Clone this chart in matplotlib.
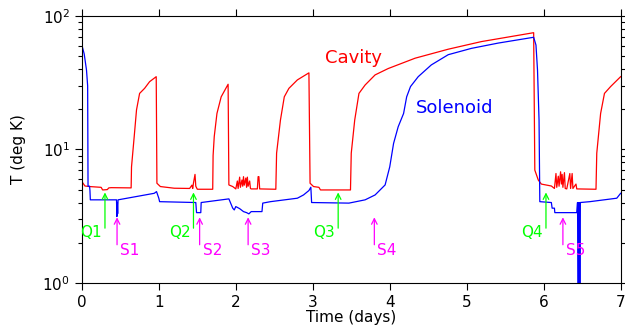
import matplotlib
matplotlib.use("Agg")
import matplotlib.pyplot as plt

# Cavity temperature (deg K) vs time (days)
cav_t = [0.00, 0.04, 0.10, 0.25, 0.27, 0.33, 0.35, 0.38, 0.64, 0.645, 0.68, 0.71, 0.75, 0.815, 0.88, 0.966,
         0.975, 1.02, 1.20, 1.40, 1.43, 1.44, 1.45, 1.47, 1.48, 1.50, 1.70, 1.705, 1.72, 1.755, 1.81, 1.90,
         1.91, 1.96, 2.00, 2.02, 2.03, 2.05, 2.06, 2.08, 2.09, 2.10, 2.11, 2.13, 2.14, 2.15, 2.16, 2.18, 2.19,
         2.20, 2.28, 2.29, 2.30, 2.31, 2.52, 2.53, 2.58, 2.63, 2.69, 2.80, 2.95, 2.965, 3.01, 3.08, 3.10,
         3.49, 3.50, 3.545, 3.60, 3.68, 3.81, 3.98, 4.33, 4.76, 5.19, 5.87, 5.885, 5.93, 5.97, 6.10, 6.14,
         6.16, 6.17, 6.19, 6.20, 6.22, 6.23, 6.24, 6.25, 6.27, 6.28, 6.30, 6.34, 6.35, 6.37, 6.38, 6.42,
         6.43, 6.68, 6.69, 6.74, 6.79, 6.87, 7.00]
cav_T = [5.74, 5.32, 5.27, 5.20, 4.97, 5.00, 5.15, 5.17, 5.15, 7.4, 12.5, 19.8, 26.3, 28.7, 32.2, 35.1,
         5.58, 5.27, 5.12, 5.10, 5.4, 5.1, 5.6, 6.5, 5.3, 5.03, 5.03, 9.0, 12.5, 18.6, 24.8, 30.8,
         5.42, 5.27, 5.06, 5.8, 5.1, 6.2, 5.2, 5.9, 5.3, 6.25, 5.4, 6.1, 5.2, 6.2, 5.3, 5.8, 5.1,
         5.06, 5.06, 6.25, 6.25, 5.06, 5.03, 9.37, 16.6, 24.8, 28.7, 33.2, 37.5, 5.58, 5.27, 5.20, 4.97,
         4.97, 9.37, 16.6, 26.3, 30.4, 36.2, 40.4, 48.3, 56.4, 64.3, 75.0, 7.0, 5.9, 5.5, 5.32, 5.1,
         6.6, 5.2, 6.3, 5.3, 6.8, 5.5, 6.5, 5.2, 6.7, 5.1, 5.06, 6.6, 5.1, 6.6, 5.1, 5.5,
         5.06, 5.03, 9.37, 18.6, 26.3, 29.6, 35.1]

# Solenoid temperature (deg K) vs time (days)
sol_t = [0.00, 0.03, 0.06, 0.075, 0.08, 0.10, 0.105, 0.11, 0.45, 0.455, 0.46, 0.465, 0.47, 0.94, 0.97,
         1.00, 1.01, 1.48, 1.49, 1.545, 1.55, 1.91, 1.96, 1.98, 2.00, 2.05, 2.10, 2.14, 2.17, 2.20, 2.34,
         2.35, 2.45, 2.80, 2.88, 2.95, 2.975, 2.985, 3.47, 3.68, 3.81, 3.94, 4.00, 4.05, 4.11, 4.18, 4.22,
         4.27, 4.37, 4.54, 4.76, 5.06, 5.41, 5.87, 5.90, 5.92, 5.94, 5.95, 6.10, 6.11, 6.14, 6.145, 6.43,
         6.44, 6.45, 6.455, 6.46, 6.465, 6.47, 6.475, 6.60, 6.95, 7.00]
sol_T = [60.6, 52.0, 39.4, 30.0, 5.3, 5.3, 4.9, 4.19, 4.19, 3.14, 4.0, 3.3, 4.19, 4.69, 4.83,
         4.3, 4.06, 4.0, 3.36, 3.36, 4.0, 4.26, 3.63, 3.52, 3.73, 3.6, 3.42, 3.36, 3.29, 3.42, 3.42,
         3.96, 4.06, 4.31, 4.56, 4.92, 5.21, 4.0, 3.96, 4.19, 4.56, 5.42, 7.4, 11.1, 14.8, 18.6, 24.8,
         29.6, 35.1, 43.0, 51.3, 57.2, 62.7, 69.3, 60.6, 39.4, 16.6, 4.06, 4.0, 3.63, 3.63, 3.36, 3.36,
         4.0, 0.5, 4.0, 0.5, 4.0, 0.5, 4.0, 4.06, 4.31, 4.69]

# event markers
q_names = ["Q1", "Q2", "Q3", "Q4"]
q_times = [0.30, 1.45, 3.33, 6.03]
s_names = ["S1", "S2", "S3", "S4", "S5"]
s_times = [0.457, 1.53, 2.16, 3.80, 6.25]

plt.rcParams['font.family'] = 'DejaVu Sans'
fig = plt.figure(figsize=(6.25, 3.27), dpi=100)
ax = fig.add_axes([0.131, 0.135, 0.862, 0.816])

ax.plot(cav_t, cav_T, color='#ff0000', lw=0.9)
ax.plot(sol_t, sol_T, color='#0000ff', lw=0.9)

for name, t in zip(q_names, q_times):
    ax.annotate("", xy=(t, 4.76), xytext=(t, 2.57),
                arrowprops=dict(arrowstyle='->', color='#00ff00', lw=0.9, shrinkA=0, shrinkB=0))
    ax.text(t - 0.04, 2.37, name, color='#00ff00', fontsize=11, ha='right', va='center')
for name, t in zip(s_names, s_times):
    ax.annotate("", xy=(t, 3.10), xytext=(t, 1.93),
                arrowprops=dict(arrowstyle='->', color='#ff00ff', lw=0.9, shrinkA=0, shrinkB=0))
    ax.text(t + 0.04, 1.74, name, color='#ff00ff', fontsize=11, ha='left', va='center')

ax.text(3.53, 48.4, "Cavity", color='#ff0000', fontsize=13, ha='center', va='center')
ax.text(4.84, 20.6, "Solenoid", color='#0000ff', fontsize=13, ha='center', va='center')

ax.set_yscale('log')
ax.set_xlim(0, 7)
ax.set_ylim(1, 100)
ax.set_xticks(range(8))
ax.tick_params(which='both', direction='out', top=True, right=True, labelsize=11)
ax.tick_params(which='major', length=5, width=0.8)
ax.tick_params(which='minor', length=3, width=0.8)
ax.tick_params(axis='x', which='minor', top=False, bottom=False)
ax.set_xlabel("Time (days)", fontsize=11, labelpad=0)
ax.set_ylabel("T (deg K)", fontsize=11, labelpad=12)

fig.savefig("out.png", dpi=100)
